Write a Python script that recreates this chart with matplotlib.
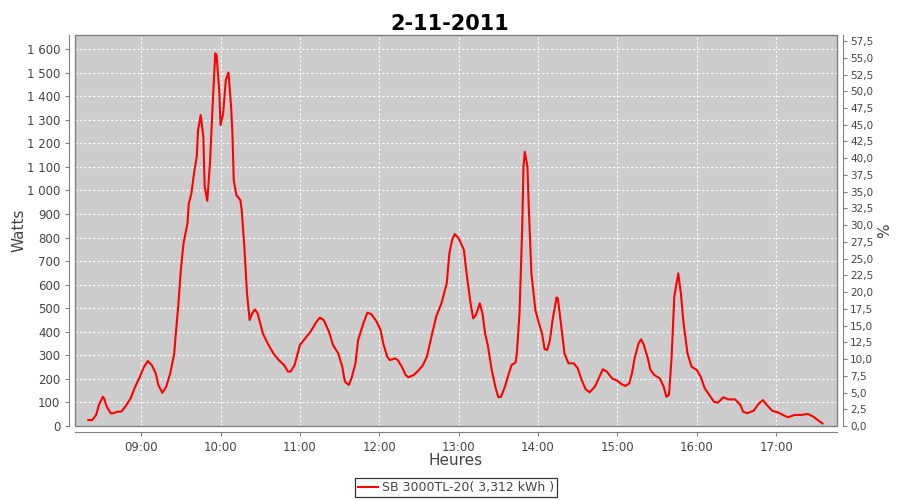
"""Daily production curve, SB 3000TL-20 inverter, 2-11-2011."""

import matplotlib
matplotlib.use("Agg")
import matplotlib.pyplot as plt
from matplotlib.ticker import FuncFormatter, MultipleLocator
from matplotlib.patches import Rectangle

# ---------------------------------------------------------------------------
# Data
# ---------------------------------------------------------------------------

times = [
    "08:20", "08:23", "08:26", "08:28", "08:31", "08:32", "08:34", "08:37", "08:39", "08:42",
    "08:45", "08:48", "08:52", "08:55", "08:59", "09:02", "09:05", "09:08", "09:11", "09:13",
    "09:16", "09:19", "09:22", "09:25", "09:26", "09:28", "09:30", "09:32", "09:35", "09:36",
    "09:38", "09:40", "09:42", "09:43", "09:45", "09:47", "09:48", "09:50", "09:52", "09:54",
    "09:56", "09:57", "09:59", "10:00", "10:02", "10:04", "10:06", "10:08", "10:09", "10:10",
    "10:12", "10:15", "10:16", "10:18", "10:20", "10:22", "10:24", "10:26", "10:28", "10:30",
    "10:32", "10:35", "10:37", "10:40", "10:44", "10:48", "10:51", "10:53", "10:56", "11:00",
    "11:04", "11:08", "11:12", "11:15", "11:18", "11:22", "11:25", "11:29", "11:32", "11:34",
    "11:37", "11:39", "11:42", "11:44", "11:48", "11:51", "11:54", "11:58", "12:01", "12:03",
    "12:06", "12:08", "12:12", "12:14", "12:17", "12:20", "12:22", "12:26", "12:30", "12:33",
    "12:36", "12:40", "12:43", "12:47", "12:51", "12:53", "12:55", "12:57", "13:00", "13:04",
    "13:06", "13:09", "13:11", "13:13", "13:16", "13:18", "13:20", "13:22", "13:25", "13:28",
    "13:30", "13:32", "13:35", "13:38", "13:40", "13:43", "13:44", "13:46", "13:48", "13:49",
    "13:50", "13:52", "13:53", "13:55", "13:58", "14:00", "14:03", "14:05", "14:07", "14:09",
    "14:11", "14:14", "14:15", "14:17", "14:20", "14:23", "14:27", "14:30", "14:33", "14:36",
    "14:39", "14:43", "14:47", "14:49", "14:52", "14:56", "15:00", "15:03", "15:06", "15:09",
    "15:11", "15:13", "15:16", "15:18", "15:20", "15:23", "15:25", "15:28", "15:32", "15:35",
    "15:37", "15:39", "15:41", "15:43", "15:46", "15:48", "15:50", "15:53", "15:56", "16:00",
    "16:03", "16:06", "16:10", "16:13", "16:16", "16:20", "16:24", "16:29", "16:33", "16:35",
    "16:38", "16:43", "16:47", "16:50", "16:53", "16:57", "17:02", "17:05", "17:09", "17:14",
    "17:19", "17:24", "17:28", "17:32", "17:35",
]

watts = [
    25, 25, 47, 89, 124, 117, 82, 54, 54, 61,
    61, 82, 117, 160, 209, 249, 276, 259, 224, 174,
    141, 167, 224, 308, 379, 506, 662, 775, 860, 945,
    988, 1073, 1143, 1256, 1320, 1228, 1016, 956, 1115, 1355,
    1582, 1575, 1426, 1278, 1327, 1469, 1501, 1355, 1242, 1044,
    980, 959, 917, 761, 563, 450, 478, 495, 478, 436,
    393, 358, 337, 308, 280, 259, 231, 231, 259, 344,
    372, 400, 438, 460, 450, 400, 344, 308, 252, 188,
    174, 202, 266, 365, 436, 481, 475, 443, 407, 351,
    294, 280, 287, 280, 252, 216, 207, 216, 238, 259,
    294, 393, 464, 521, 606, 733, 789, 815, 797, 747,
    648, 521, 457, 471, 521, 478, 393, 344, 238, 160,
    122, 124, 167, 224, 259, 269, 308, 478, 832, 1101,
    1164, 1101, 931, 648, 492, 450, 393, 326, 323, 365,
    450, 546, 542, 450, 308, 266, 266, 245, 195, 156,
    143, 167, 216, 241, 231, 202, 192, 178, 170, 181,
    224, 287, 351, 368, 344, 287, 238, 216, 202, 167,
    124, 132, 294, 549, 648, 563, 436, 308, 252, 238,
    209, 160, 127, 103, 99, 122, 113, 113, 89, 61,
    54, 65, 96, 110, 89, 65, 56, 47, 37, 47,
    47, 51, 40, 23, 11,
]

hour_ticks = ["09:00", "10:00", "11:00", "12:00", "13:00", "14:00", "15:00", "16:00", "17:00"]
series_label = "SB 3000TL-20( 3,312 kWh )"
title = "2-11-2011"


def _to_hours(t: str) -> float:
    h, m = t.split(":")
    return int(h) + int(m) / 60.0


def _thousands(v, pos):
    return f"{int(round(v)):,}".replace(",", " ")


def _comma_decimal(v, pos):
    return f"{v:.1f}".replace(".", ",")


# ---------------------------------------------------------------------------
# Plot
# ---------------------------------------------------------------------------

x = [_to_hours(t) for t in times]
label_color = "#444444"
axis_color = "#808080"

fig = plt.figure(figsize=(9, 5), dpi=100)
fig.patch.set_facecolor("white")
ax = fig.add_axes([75 / 900, 1 - 426 / 500, 762 / 900, 391 / 500])
ax.set_facecolor("#CCCCCC")

ax.plot(x, watts, color="#FF0000", linewidth=1.5, label=series_label, zorder=3)

ax.set_xlim(_to_hours("08:10"), _to_hours("17:46"))
ax.set_ylim(0, 1660)

ax.set_xticks([_to_hours(t) for t in hour_ticks])
ax.set_xticklabels(hour_ticks)
ax.yaxis.set_major_locator(MultipleLocator(100))
ax.yaxis.set_major_formatter(FuncFormatter(_thousands))

ax.grid(True, color="white", linestyle=(0, (2, 2)), linewidth=0.8, zorder=1)
ax.set_axisbelow(True)

# JFreeChart-style axes: lines offset from the plot area
for side in ("left", "bottom"):
    ax.spines[side].set_position(("outward", 4))
    ax.spines[side].set_color(axis_color)
for side in ("top", "right"):
    ax.spines[side].set_visible(False)
ax.add_patch(Rectangle((0, 0), 1, 1, transform=ax.transAxes, fill=False,
                       edgecolor=axis_color, linewidth=1.0, zorder=4, clip_on=False))

ax.tick_params(axis="both", colors=axis_color, labelcolor=label_color,
               labelsize=8.5, length=3, width=0.8)

ax.set_xlabel("Heures", fontsize=11, color=label_color)
ax.set_ylabel("Watts", fontsize=11, color=label_color)
ax.xaxis.set_label_coords(0.5, -0.069)
ax.yaxis.set_label_coords(-0.063, 0.5)

# Right axis in %
ax2 = ax.twinx()
ax2.set_ylim(0, 58.4)
ax2.yaxis.set_major_locator(MultipleLocator(2.5))
ax2.yaxis.set_major_formatter(FuncFormatter(_comma_decimal))
for side in ("left", "top", "bottom"):
    ax2.spines[side].set_visible(False)
ax2.spines["right"].set_position(("outward", 4))
ax2.spines["right"].set_color(axis_color)
ax2.tick_params(axis="y", colors=axis_color, labelcolor=label_color,
                labelsize=7.5, length=3, width=0.8, pad=2.5)
ax2.set_ylabel("%", fontsize=11, color=label_color)
ax2.yaxis.set_label_coords(1.053, 0.5)

fig.suptitle(title, fontsize=15, fontweight="bold", y=0.972)

leg = ax.legend(loc="upper center", bbox_to_anchor=(0.5, -0.133), frameon=True,
                fancybox=False, fontsize=9, handlelength=1.6, handletextpad=0.3,
                borderpad=0.25, borderaxespad=0)
leg.get_frame().set_edgecolor("black")
leg.get_frame().set_linewidth(0.9)
for txt in leg.get_texts():
    txt.set_color(label_color)

fig.savefig("out.png", dpi=100)
plt.close(fig)
